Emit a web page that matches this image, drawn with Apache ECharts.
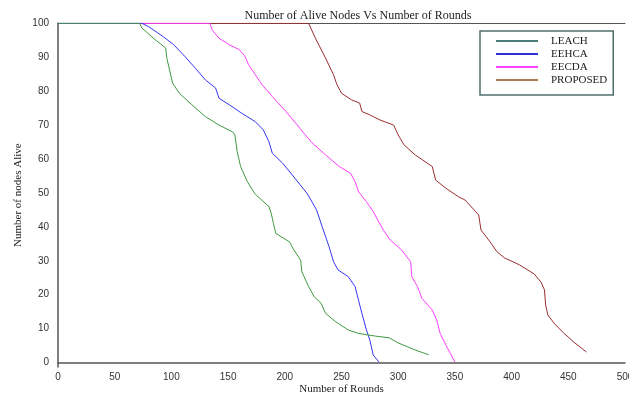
<!DOCTYPE html>
<html>
<head>
<meta charset="utf-8">
<script src="https://cdn.jsdelivr.net/npm/echarts@6/dist/echarts.min.js"></script>
<style>html,body{margin:0;padding:0;background:#fff;}#chart{width:629px;height:394px;}</style>
</head>
<body>
<div id="chart"></div>
<script>
const seriesNames = ['LEACH', 'EEHCA', 'EECDA', 'PROPOSED'];
const yTickValues = [0, 10, 20, 30, 40, 50, 60, 70, 80, 90, 100];

const leachRounds = [0, 72, 74, 86, 95, 96, 98, 101, 107, 118, 130, 142, 154, 156, 158, 161, 167, 174, 186, 188, 190, 192, 204, 208, 214, 215, 221, 226, 232, 236, 245, 256, 265, 280, 292, 300, 315, 327];
const leachAlive  = [100, 100, 98.6, 95.1, 92.7, 89.7, 86.8, 82.4, 79.4, 76, 72.5, 70, 68, 67.1, 62.2, 57.8, 53.3, 49.6, 46, 44, 41, 38.1, 35.6, 33.2, 30.2, 26.8, 22.4, 19.4, 17.5, 14.5, 12, 9.6, 8.6, 7.8, 7.3, 5.8, 3.7, 2.3];

const eehcaRounds = [0, 74, 80, 93, 102, 112, 121, 130, 139, 142, 151, 162, 174, 181, 186, 189, 198, 209, 220, 228, 233, 239, 243, 247, 256, 262, 265, 268, 272, 275, 278, 283];
const eehcaAlive  = [100, 100, 99, 96, 93.7, 90.2, 86.8, 83.3, 80.9, 77.9, 76, 73.5, 71, 68.6, 65.1, 61.7, 58.8, 54.3, 49.7, 45, 40, 34.2, 29.7, 27.3, 25.3, 22.4, 18.4, 14.5, 9.6, 6.6, 2.2, 0.2];

const eecdaRounds = [0, 134, 136, 142, 151, 160, 165, 168, 174, 180, 189, 201, 211, 217, 224, 236, 248, 258, 262, 265, 272, 278, 282, 287, 293, 303, 311, 312, 317, 321, 330, 334, 337, 342, 346, 350];
const eecdaAlive  = [100, 100, 98, 95.6, 93.7, 92.2, 90.2, 87.8, 84.8, 81.9, 78.4, 74, 70, 67.5, 64.8, 61.2, 57.8, 55.8, 53.3, 50.4, 47.4, 44.5, 42, 39, 36.1, 33.2, 29.7, 25.3, 22.4, 18.9, 15.5, 12.5, 8.6, 5.2, 2.7, 0.2];

const proposedRounds = [0, 221, 227, 236, 243, 246, 250, 259, 266, 268, 275, 284, 296, 300, 305, 315, 330, 333, 342, 353, 359, 371, 373, 381, 387, 394, 407, 420, 426, 429, 430, 432, 438, 446, 455, 466];
const proposedAlive  = [100, 100, 95.6, 89.7, 84.8, 81.9, 79.4, 77.4, 76.5, 74, 73, 71.5, 70, 67.1, 64.2, 61.2, 57.8, 53.8, 51.4, 48.9, 47.9, 43.5, 39.1, 35.6, 32.7, 30.8, 28.8, 26.1, 23.7, 21.4, 17, 14, 11.4, 8.7, 6, 3.1];

const zip = (xs, ys) => xs.map((x, i) => [x, ys[i]]);

const lineColors = {LEACH: '#3f9a3f', EEHCA: '#3535f5', EECDA: '#ff3cff', PROPOSED: '#9a2e2e'};
const legendColors = {LEACH: '#4d7d78', EEHCA: '#3030e0', EECDA: '#ff44ff', PROPOSED: '#a67c52'};

const dataMap = {
  LEACH: zip(leachRounds, leachAlive),
  EEHCA: zip(eehcaRounds, eehcaAlive),
  EECDA: zip(eecdaRounds, eecdaAlive),
  PROPOSED: zip(proposedRounds, proposedAlive)
};

const drawOrder = ['PROPOSED', 'EECDA', 'EEHCA', 'LEACH'];

const chart = echarts.init(document.getElementById('chart'), null, {renderer: 'canvas'});
chart.setOption({
  animation: false,
  backgroundColor: '#ffffff',
  title: {
    text: 'Number of Alive Nodes Vs Number of Rounds',
    left: 353, top: 5, textAlign: 'center',
    textStyle: {fontFamily: 'Liberation Serif', fontSize: 12, fontWeight: 'normal', color: '#222'}
  },
  legend: {
    orient: 'vertical',
    left: 480, top: 31,
    padding: [4, 6, 9, 16],
    itemGap: 1,
    itemWidth: 42, itemHeight: 2,
    borderColor: '#4f6f6c', borderWidth: 1.5, borderRadius: 0,
    textStyle: {fontFamily: 'Liberation Serif', fontSize: 11, color: '#222', padding: [0, 0, 0, 8], lineHeight: 12},
    data: seriesNames.map(n => ({name: n, icon: 'rect', itemStyle: {color: legendColors[n]}}))
  },
  grid: {left: 58, right: 4, top: 23.3, bottom: 27, containLabel: false, outerBoundsMode: 'none'},
  xAxis: [{
    type: 'value', min: 0, max: 500, interval: 50,
    name: 'Number of Rounds', nameLocation: 'middle', nameGap: 16.5, nameMoveOverlap: false,
    nameTextStyle: {fontFamily: 'Liberation Serif', fontSize: 11, color: '#222'},
    axisLine: {show: true, lineStyle: {color: '#555', width: 1.5}},
    axisTick: {show: false},
    splitLine: {show: false},
    axisLabel: {fontFamily: 'Liberation Sans', fontSize: 10, color: '#333', margin: 5, showMaxLabel: true}
  }, {
    type: 'value', min: 0, max: 500, position: 'top',
    axisLine: {show: true, lineStyle: {color: '#555', width: 1.2}},
    axisTick: {show: false}, axisLabel: {show: false}, splitLine: {show: false}
  }],
  yAxis: {
    type: 'value', min: -1.3, max: 100,
    name: 'Number of nodes Alive', nameLocation: 'middle', nameGap: 34, nameRotate: 90, nameMoveOverlap: false,
    nameTextStyle: {fontFamily: 'Liberation Serif', fontSize: 11, color: '#222'},
    axisLine: {show: true, lineStyle: {color: '#555', width: 1.5}},
    axisTick: {show: false},
    splitLine: {show: false},
    axisLabel: {fontFamily: 'Liberation Sans', fontSize: 10, color: '#333', margin: 9, customValues: yTickValues}
  },
  series: drawOrder.map(n => ({
    name: n, type: 'line', data: dataMap[n], symbol: 'none', showSymbol: false,
    xAxisIndex: 0,
    lineStyle: {color: lineColors[n], width: 1},
    itemStyle: {color: lineColors[n]}
  }))
});
</script>
</body>
</html>
